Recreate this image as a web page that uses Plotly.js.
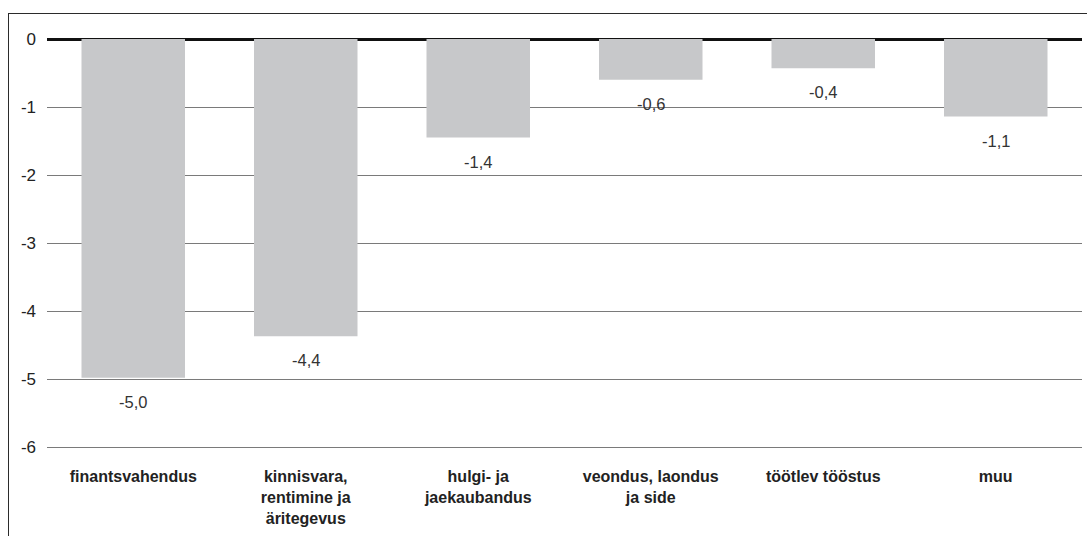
<!DOCTYPE html>
<html>
<head>
<meta charset="utf-8">
<script src="https://cdn.plot.ly/plotly-3.0.1.min.js"></script>
<style>
  body { margin: 0; background: #fff; }
  #chart { position: absolute; left: 0; top: 0; width: 1087px; height: 536px; }
  #frame { position: absolute; left: 8px; top: 13px; width: 1100px; height: 600px;
           border-left: 1px solid #2b2b2b; border-top: 1px solid #2b2b2b; pointer-events: none; }
</style>
</head>
<body>
<div id="chart"></div>
<div id="frame"></div>
<script>
// sektorid (tick labels, line breaks as in the original)
const sectors = [
    'finantsvahendus',
    'kinnisvara,<br>rentimine ja<br>äritegevus',
    'hulgi- ja<br>jaekaubandus',
    'veondus, laondus<br>ja side',
    'töötlev tööstus',
    'muu'
];
const values = [-4.98, -4.37, -1.45, -0.60, -0.43, -1.14];
const valueLabels = ['-5,0', '-4,4', '-1,4', '-0,6', '-0,4', '-1,1'];
const yTicks = [0, -1, -2, -3, -4, -5, -6];

const trace = {
    x: sectors,
    y: values,
    type: 'bar',
    marker: { color: '#c7c8ca' },
    hoverinfo: 'none'
};

// value labels under the bar ends
const annotations = sectors.map((s, i) => ({
    x: s,
    y: values[i],
    text: valueLabels[i],
    showarrow: false,
    yanchor: 'top',
    yshift: -13,
    font: { family: 'Liberation Sans, Arial, sans-serif', size: 16.5, color: '#333' }
}));

const layout = {
    width: 1087,
    height: 536,
    margin: { l: 47, r: 5, t: 39, b: 89 },
    paper_bgcolor: '#fff',
    plot_bgcolor: '#fff',
    showlegend: false,
    bargap: 0.4,
    font: { family: 'Liberation Sans, Arial, sans-serif', color: '#222' },
    xaxis: {
        type: 'category',
        showgrid: false,
        showline: true,          // bottom line = the -6 gridline
        linecolor: '#7a7a7a',
        linewidth: 1,
        zeroline: false,
        ticks: '',
        tickangle: 0,
        ticklabelstandoff: 15,
        tickfont: { size: 16, color: '#222', weight: 'bold' }
    },
    yaxis: {
        range: [-6, 0],
        tickvals: yTicks,
        ticktext: yTicks.map(String),
        showgrid: true,
        gridcolor: '#7a7a7a',
        gridwidth: 1,
        zeroline: true,
        zerolinecolor: '#111',
        zerolinewidth: 3,
        showline: false,
        ticks: '',
        ticklabelstandoff: 10,
        tickfont: { size: 17, color: '#222' }
    },
    annotations: annotations
};

Plotly.newPlot('chart', [trace], layout, { displayModeBar: false, staticPlot: true });
</script>
</body>
</html>
